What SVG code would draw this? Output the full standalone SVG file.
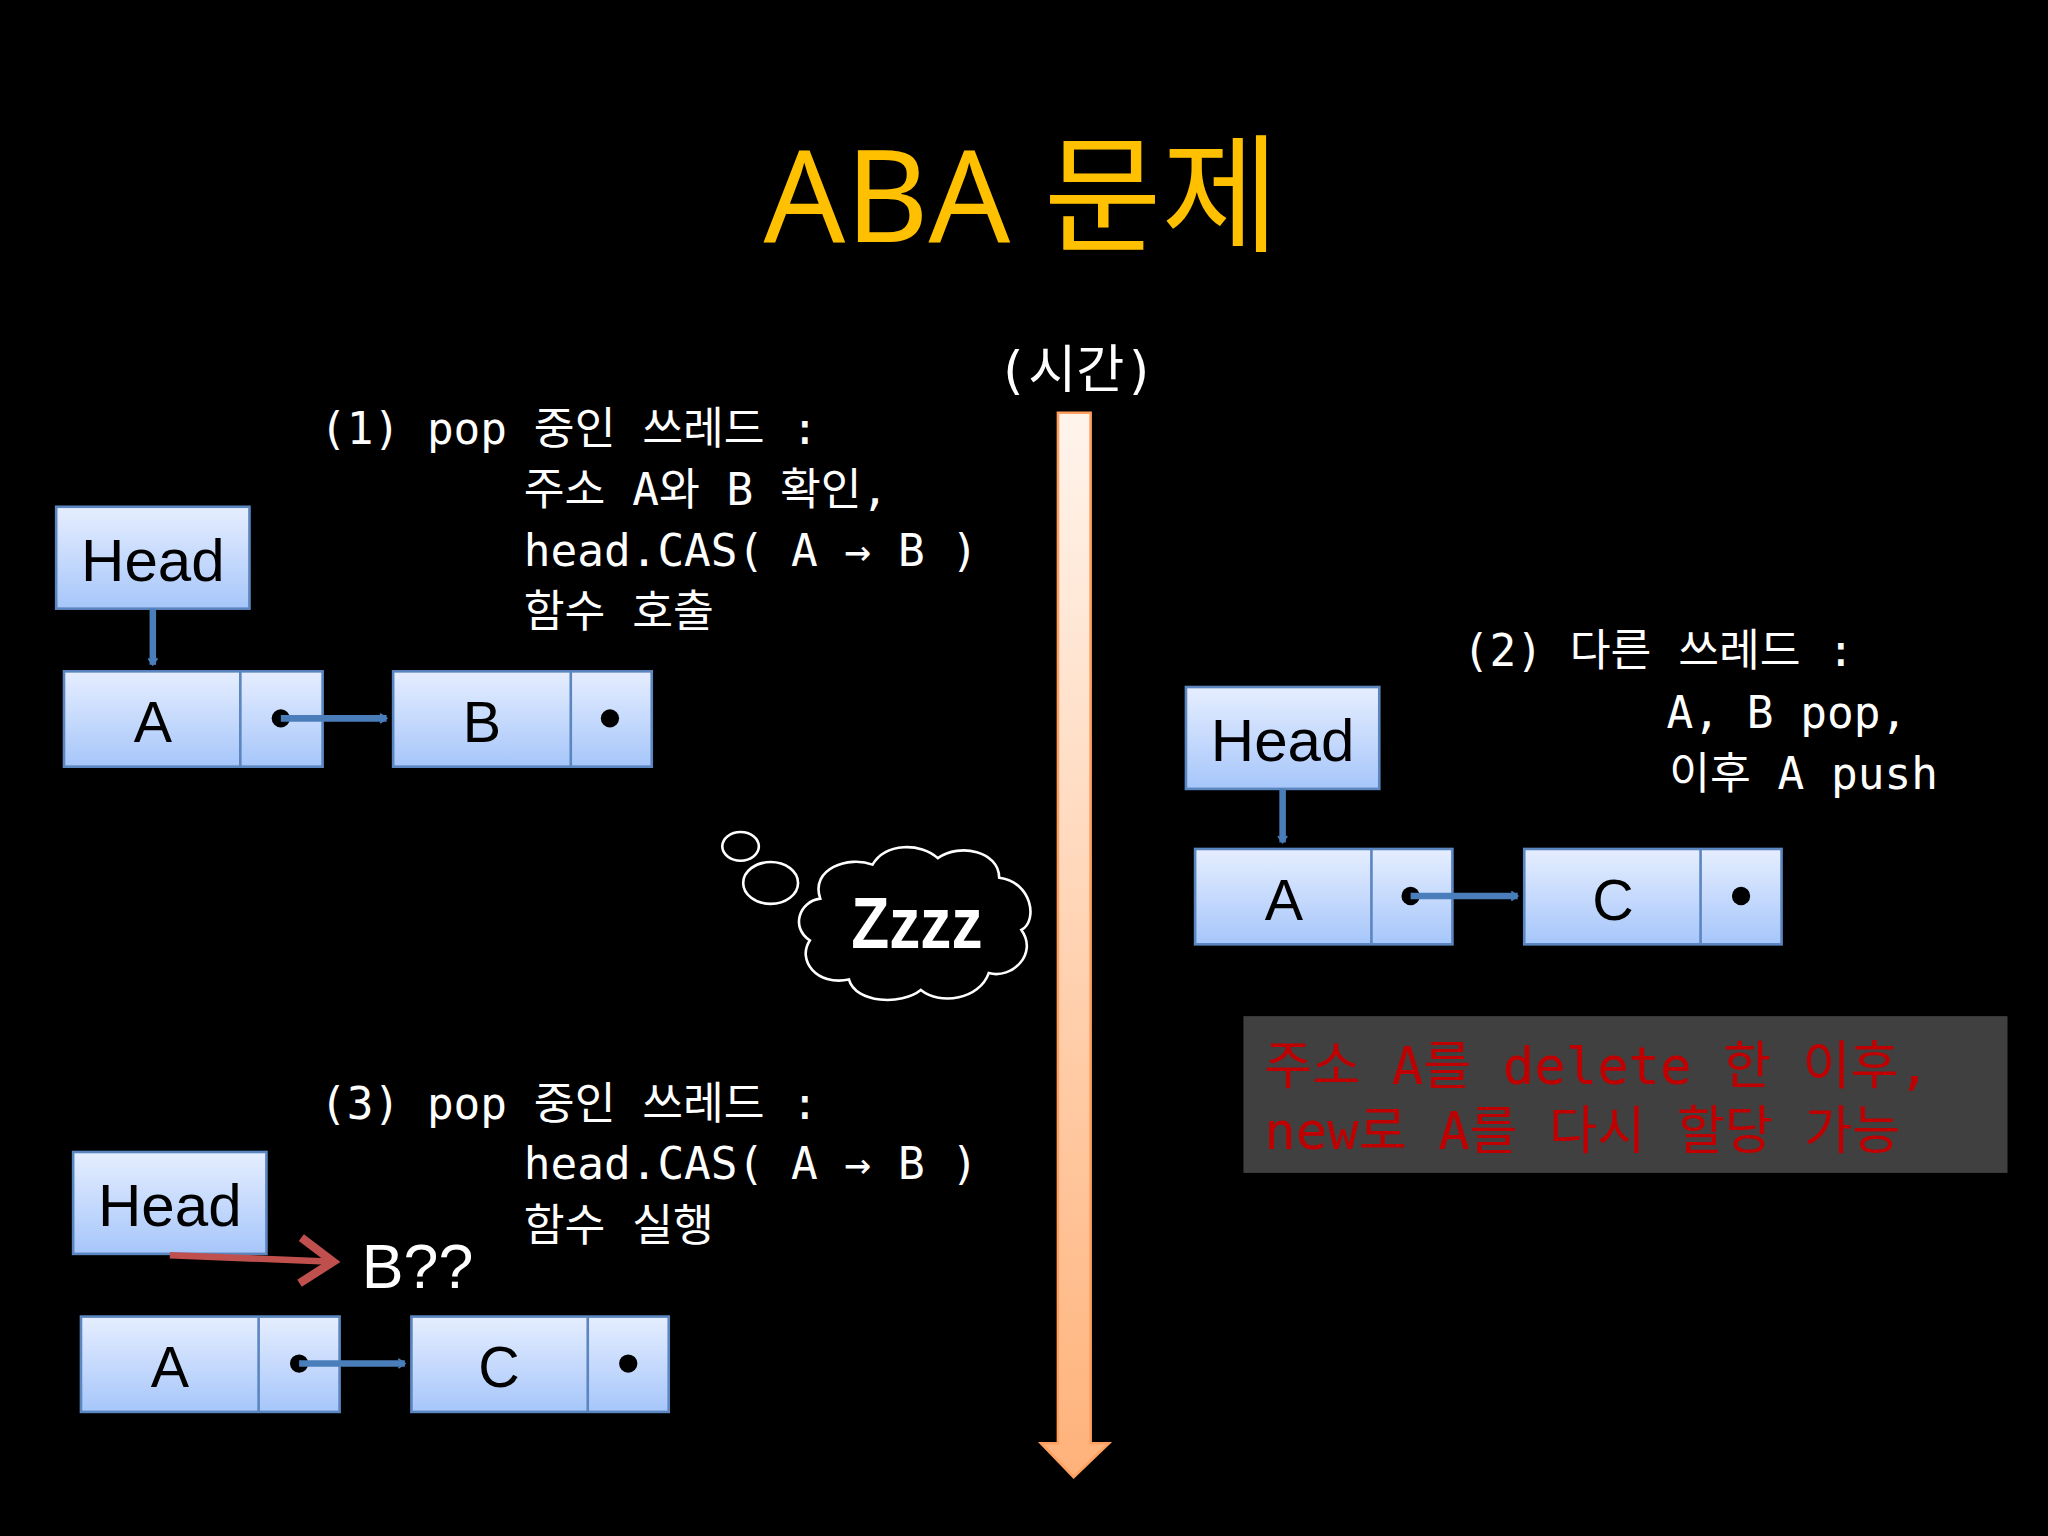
<svg xmlns="http://www.w3.org/2000/svg" width="2048" height="1536" viewBox="0 0 2048 1536">
<defs>
<linearGradient id="nb" x1="0" y1="0" x2="0" y2="1"><stop offset="0" stop-color="#E6EEFF"/><stop offset="1" stop-color="#A6C6FA"/></linearGradient>
<linearGradient id="tl" x1="0" y1="0" x2="0" y2="1"><stop offset="0" stop-color="#FFF4EC"/><stop offset="1" stop-color="#FFB27A"/></linearGradient>
<marker id="ab" markerWidth="8" markerHeight="8" refX="6" refY="4" orient="auto" markerUnits="userSpaceOnUse" viewBox="0 0 8 8"><path d="M1,0.5 L6,4 L1,7.5" fill="none" stroke="#4A7EBB" stroke-width="1.3"/></marker>
<marker id="ar" markerWidth="8" markerHeight="8" refX="6" refY="4" orient="auto" viewBox="0 0 8 8"><path d="M1,0.5 L6,4 L1,7.5" fill="none" stroke="#C0504D" stroke-width="1.3"/></marker>
</defs>
<style>
.box{fill:url(#nb);stroke:#5B86C0;stroke-width:2}
.lbl{font-family:"Liberation Sans","Noto Sans CJK KR",sans-serif;fill:#000;text-anchor:middle}
.mono{font-family:"DejaVu Sans Mono","Noto Sans CJK KR",monospace;font-size:34px;fill:#fff}
.blue{stroke:#4A7EBB;stroke-width:5;fill:none}
</style>
<rect width="2048" height="1536" fill="#000"/>
<g transform="scale(1.30612)">
<text x="782" y="185" font-family="'Noto Sans','Noto Sans CJK KR',sans-serif" font-size="98" fill="#FFC000" text-anchor="middle">ABA 문제</text>
<g id="timeline">
<text x="824" y="297" class="mono" font-size="40" text-anchor="middle" style="font-size:40px">(시간)</text>
<path d="M810,316 H835 V1105 H849 L822,1131 L797,1105 H810 Z" fill="url(#tl)" stroke="#FFA060" stroke-width="2"/>
</g>
<g id="text1" class="mono">
<text x="245" y="340" class="mono">(1) pop 중인 쓰레드 :</text>
<text x="401" y="387" class="mono">주소 A와 B 확인,</text>
<text x="401" y="433" class="mono">head.CAS( A → B )</text>
<text x="401" y="480" class="mono">함수 호출</text>
</g>
<g id="head1"><rect class="box" x="43" y="388" width="148" height="78"/><text class="lbl" x="117" y="445" font-size="46">Head</text></g>
<g id="nodeA1"><rect class="box" x="49" y="514" width="198" height="73"/><line x1="184" y1="514" x2="184" y2="587" stroke="#5B86C0" stroke-width="2"/><text class="lbl" x="117" y="568" font-size="44">A</text><circle cx="215" cy="550" r="7"/></g>
<g id="nodeB1"><rect class="box" x="301" y="514" width="198" height="73"/><line x1="437" y1="514" x2="437" y2="587" stroke="#5B86C0" stroke-width="2"/><text class="lbl" x="369" y="568" font-size="44">B</text><circle cx="467" cy="550" r="7"/></g>

<g id="text2">
<text x="1120" y="510" class="mono">(2) 다른 쓰레드 :</text>
<text x="1276" y="557" class="mono">A, B pop,</text>
<text x="1278" y="604" class="mono">이후 A push</text>
</g>
<g id="head2"><rect class="box" x="908" y="526" width="148" height="78"/><text class="lbl" x="982" y="583" font-size="46">Head</text></g>
<g id="nodeA2"><rect class="box" x="915" y="650" width="197" height="73"/><line x1="1050" y1="650" x2="1050" y2="723" stroke="#5B86C0" stroke-width="2"/><text class="lbl" x="983" y="704" font-size="44">A</text><circle cx="1080" cy="686" r="7"/></g>
<g id="nodeC2"><rect class="box" x="1167" y="650" width="197" height="73"/><line x1="1302" y1="650" x2="1302" y2="723" stroke="#5B86C0" stroke-width="2"/><text class="lbl" x="1235" y="704" font-size="44">C</text><circle cx="1333" cy="686" r="7"/></g>
<g id="note">
<rect x="952" y="778" width="585" height="120" fill="#404040"/>
<text x="968" y="830" class="mono" style="font-size:40px;fill:#C00000">주소 A를 delete 한 이후,</text>
<text x="968" y="880" class="mono" style="font-size:40px;fill:#C00000">new로 A를 다시 할당 가능</text>
</g>

<g id="cloud">
<ellipse cx="567" cy="648" rx="14" ry="11" fill="none" stroke="#fff" stroke-width="2"/>
<ellipse cx="590" cy="676" rx="21" ry="16" fill="none" stroke="#fff" stroke-width="2"/>
<path d="M628,688 C620,665 650,655 668,662 C678,645 705,645 718,657 C735,645 765,652 765,672 C790,675 795,705 782,712 C795,730 775,750 757,745 C750,765 720,770 705,758 C690,770 655,768 650,750 C625,755 610,735 620,720 C605,710 612,690 628,688 Z" fill="#000" stroke="#fff" stroke-width="2"/>
<text x="702" y="726" font-family="'Liberation Sans',sans-serif" font-weight="bold" font-size="56" fill="#fff" text-anchor="middle" transform="translate(702,0) scale(0.85,1) translate(-702,0)">Zzzz</text>
</g>

<g id="text3">
<text x="245" y="857" class="mono">(3) pop 중인 쓰레드 :</text>
<text x="401" y="903" class="mono">head.CAS( A → B )</text>
<text x="401" y="950" class="mono">함수 실행</text>
</g>
<g id="head3"><rect class="box" x="56" y="882" width="148" height="78"/><text class="lbl" x="130" y="939" font-size="46">Head</text></g>
<text id="bq" x="277" y="986" font-family="'Liberation Sans',sans-serif" font-size="48" fill="#fff">B??</text>
<g id="nodeA3"><rect class="box" x="62" y="1008" width="198" height="73"/><line x1="198" y1="1008" x2="198" y2="1081" stroke="#5B86C0" stroke-width="2"/><text class="lbl" x="130" y="1062" font-size="44">A</text><circle cx="229" cy="1044" r="7"/></g>
<g id="nodeC3"><rect class="box" x="315" y="1008" width="197" height="73"/><line x1="450" y1="1008" x2="450" y2="1081" stroke="#5B86C0" stroke-width="2"/><text class="lbl" x="382" y="1062" font-size="44">C</text><circle cx="481" cy="1044" r="7"/></g>

<g id="connectors">
<line class="blue" x1="117" y1="466" x2="117" y2="509" marker-end="url(#ab)"/>
<line class="blue" x1="215" y1="550" x2="296" y2="550" marker-end="url(#ab)"/>
<line class="blue" x1="982" y1="604" x2="982" y2="645" marker-end="url(#ab)"/>
<line class="blue" x1="1080" y1="686" x2="1162" y2="686" marker-end="url(#ab)"/>
<line class="blue" x1="229" y1="1044" x2="310" y2="1044" marker-end="url(#ab)"/>
<line x1="130" y1="961" x2="255" y2="966" stroke="#C0504D" stroke-width="5" marker-end="url(#ar)"/>
</g>
</g>
</svg>
